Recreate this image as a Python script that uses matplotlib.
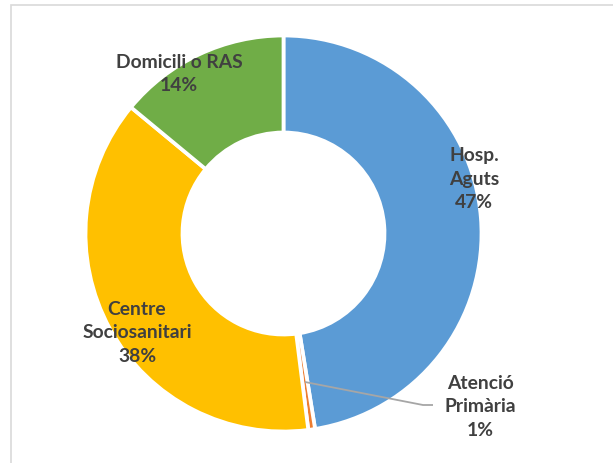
import matplotlib.pyplot as plt
from matplotlib.patches import Rectangle

# data
labels = ["Hosp.\nAguts", "Atenció\nPrimària", "Centre\nSociosanitari", "Domicili o RAS"]
values = [47.45, 0.55, 38.0, 14.0]
colors = ["#5B9BD5", "#ED7D31", "#FFC000", "#70AD47"]

# layout (pixel positions in the 613x464 image, y from top)
label_pos = [(474, 179), (480, 407), (137, 333), (179, 74)]
W, H = 613, 464


def fy(y):
    return H - y


fig = plt.figure(figsize=(6.13, 4.64), dpi=100)
ax = fig.add_axes([0, 0, 1, 1])

ax.pie(values, colors=colors, startangle=90, counterclock=False,
       center=(283.5, fy(234.5)), radius=198,
       wedgeprops=dict(width=97, edgecolor="white", linewidth=2.7))
ax.set_xlim(0, W)
ax.set_ylim(0, H)
ax.set_aspect("equal")
ax.axis("off")

for lab, v, (x, y) in zip(labels, values, label_pos):
    ax.text(x, fy(y), f"{lab}\n{v:.0f}%", ha="center", va="center",
            fontsize=13.9, fontweight="bold", family="Lato", color="#404040",
            linespacing=1.45)

# leader line for the small slice
ax.plot([305, 423, 433], [fy(383), fy(406), fy(406)], color="#A6A6A6", lw=1.3,
        solid_capstyle="butt")

# chart area border
ax.add_patch(Rectangle((11, -20), 700, fy(6) + 20, fill=False,
                       edgecolor="#D9D9D9", lw=1.2))

fig.savefig("out.png", dpi=100)
